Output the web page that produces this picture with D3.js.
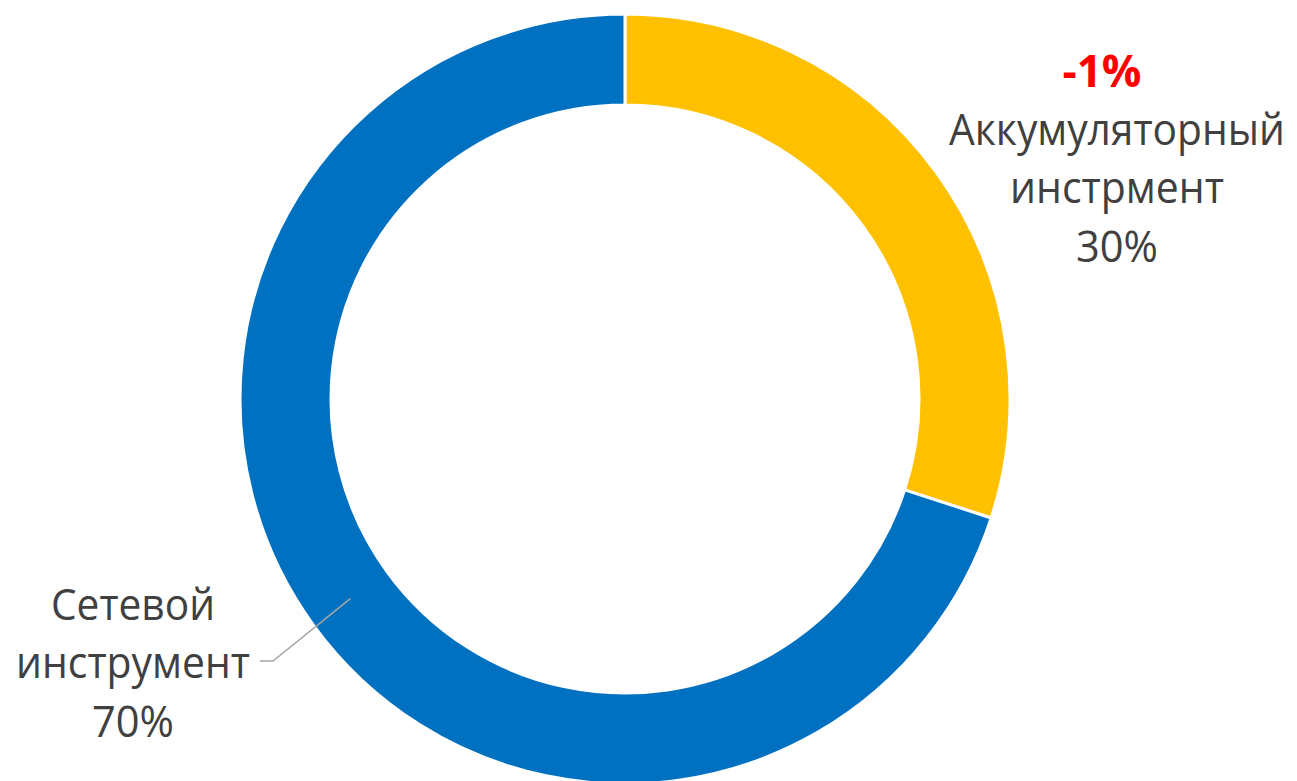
<!DOCTYPE html>
<html><head><meta charset="utf-8">
<script src="https://cdn.jsdelivr.net/npm/d3@7"></script>
<style>html,body{margin:0;padding:0;background:#fff;overflow:hidden}</style>
</head><body>
<svg id="chart" width="1297" height="781"></svg>
<script>
const categories = ["Аккумуляторный инстрмент", "Сетевой инструмент"];
const labelLines = [["Аккумуляторный", "инстрмент"], ["Сетевой", "инструмент"]];
const values = [30, 70];
const changeLabel = "-1%";
const colors = ["#FFC000", "#0070C0"];

const svg = d3.select("#chart");
const cx = 625, cy = 399, rOuter = 385, rInner = 294;
const g = svg.append("g").attr("transform", `translate(${cx},${cy})`);

const pie = d3.pie().sort(null).value(d => d)(values);
const arc = d3.arc().innerRadius(rInner).outerRadius(rOuter);

g.selectAll("path").data(pie).enter().append("path")
  .attr("d", arc)
  .attr("fill", (d, i) => colors[i])
  .attr("stroke", "#fff").attr("stroke-width", 3);

const total = d3.sum(values);
const pct = v => Math.round(v / total * 100) + "%";
const font = "'Open Sans', 'Noto Sans', sans-serif";

function fitText(x, y, t, width, opts) {
  const el = svg.append("text").attr("x", 0).attr("y", 0)
    .attr("text-anchor", "middle").attr("font-family", font)
    .attr("font-size", 44).attr("fill", opts.fill || "#404040")
    .attr("font-weight", opts.bold ? "bold" : "normal").text(t);
  const w = el.node().getComputedTextLength();
  const s = Math.min(1, width / w);
  el.attr("transform", `translate(${x},${y}) scale(${s},1)`);
  return el;
}

function addLines(x, y0, lines, widths) {
  lines.forEach((t, k) => fitText(x, y0 + k * 58.3, t, widths[k], {}));
}

// right label (slice 0)
fitText(1102, 87, changeLabel, 80, { bold: true, fill: "#FF0000" });
addLines(1117, 145, [...labelLines[0], pct(values[0])], [336, 214, 82]);

// left label (slice 1)
addLines(133, 620, [...labelLines[1], pct(values[1])], [164, 234, 82]);

// leader line from centroid of slice 1
const c = arc.centroid(pie[1]);
svg.append("polyline")
  .attr("points", [[cx + c[0], cy + c[1]], [273, 661], [260, 661]].map(p => p.join(",")).join(" "))
  .attr("fill", "none").attr("stroke", "#A6A6A6").attr("stroke-width", 1.5);
</script>
</body></html>
